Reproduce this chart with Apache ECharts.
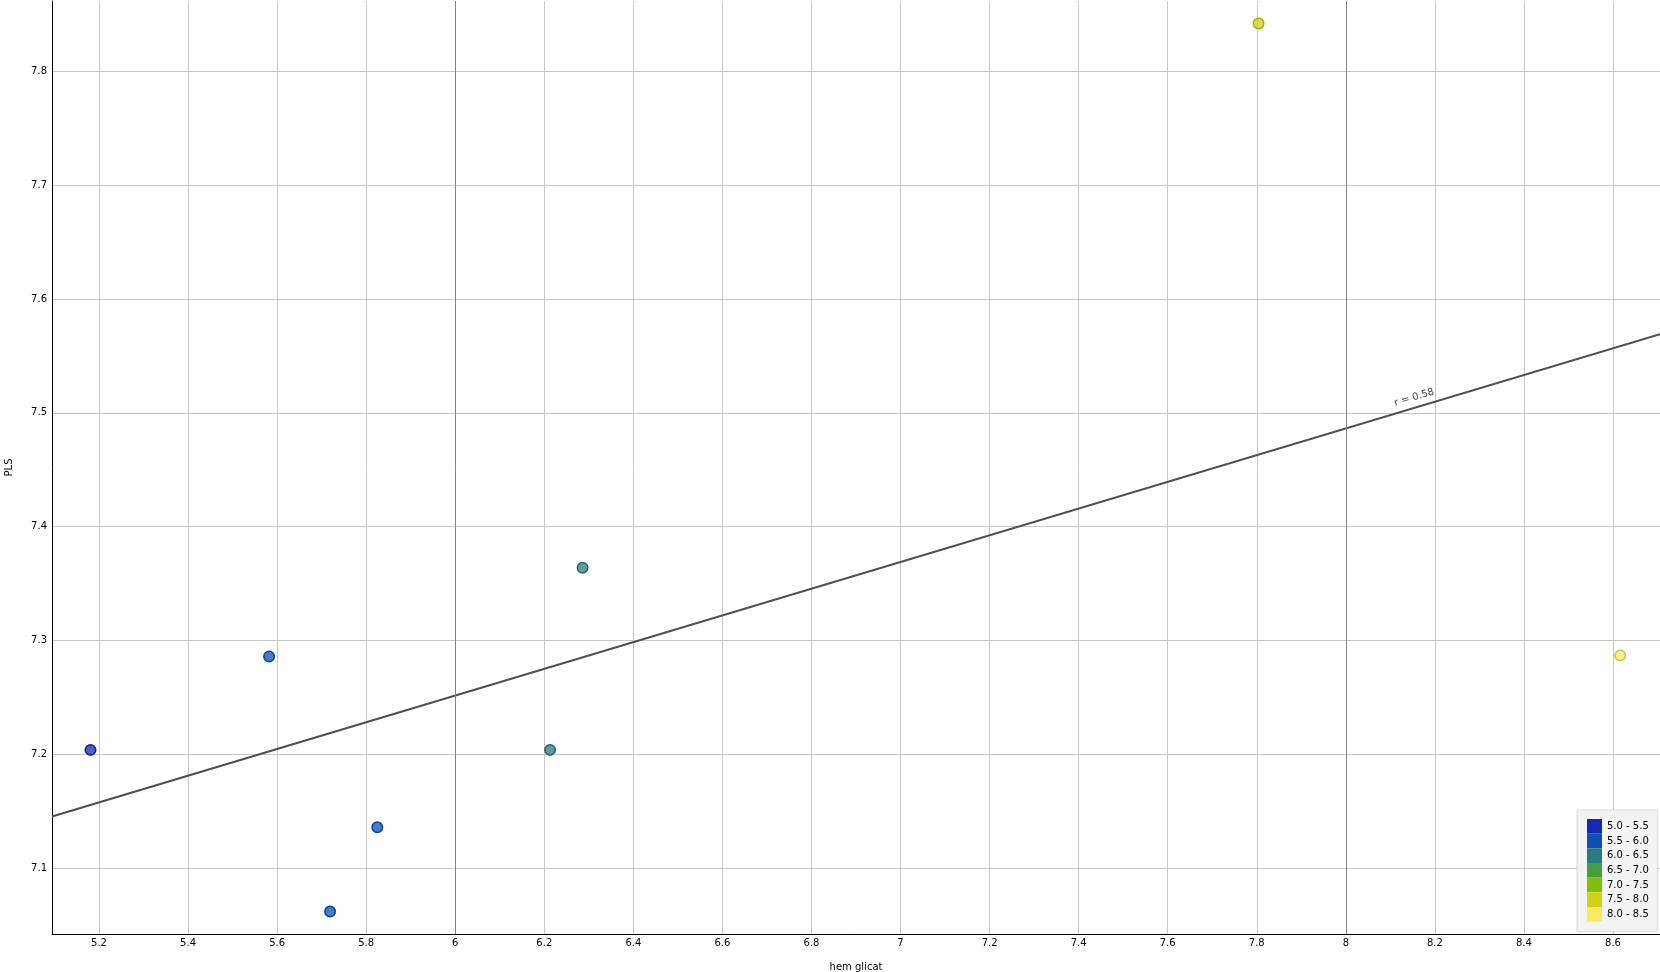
<!DOCTYPE html>
<html><head><meta charset="utf-8">
<script src="https://cdn.jsdelivr.net/npm/echarts@6/dist/echarts.min.js"></script>
<style>html,body{margin:0;padding:0;background:#fff}#c{width:1660px;height:972px}</style>
</head><body><div id="c"></div>
<script>
// ---- data ----
const hemGlicat = [5.181, 5.582, 5.719, 5.825, 6.213, 6.286, 7.804, 8.616];
const pls       = [7.204, 7.286, 7.062, 7.136, 7.204, 7.364, 7.842, 7.287];
const binLabels = ['5.0 - 5.5','5.5 - 6.0','6.0 - 6.5','6.5 - 7.0','7.0 - 7.5','7.5 - 8.0','8.0 - 8.5'];
const binStarts = [5.0, 5.5, 6.0, 6.5, 7.0, 7.5, 8.0];
const binColors = ['#1428b0','#0c50b4','#2a7a80','#40a040','#86bc10','#d2d214','#f8ea60'];
const trendLine = [[5.0945, 7.1455], [8.7055, 7.569]];
const trendLabel = 'r = 0.58';
const trendLabelAt = 8.16;
const xRange = [5.0945, 8.7055];
const yRange = [7.0423, 7.8617];
const majorX = [6, 8];
const xName = 'hem glicat';
const yName = 'PLS';

function rgb(hex){const n=parseInt(hex.slice(1),16);return [(n>>16)&255,(n>>8)&255,n&255];}
function fill(hex){const c=rgb(hex);return 'rgba('+c[0]+','+c[1]+','+c[2]+',0.75)';}
function dark(hex){const c=rgb(hex).map(v=>Math.round(v*0.82));return 'rgb('+c.join(',')+')';}
function binOf(x){let b=0;for(let i=0;i<binStarts.length;i++){if(x>=binStarts[i])b=i;}return b;}

const FONT = 'DejaVu Sans';
const chart = echarts.init(document.getElementById('c'), null, {renderer:'canvas'});

const series = [
  {
    type:'line', name:'_major', data:[], silent:true, z:1,
    markLine:{symbol:['none','none'], silent:true, animation:false,
      label:{show:false},
      lineStyle:{color:'#828282', width:1, type:'solid'},
      data: majorX.map(v=>({xAxis:v}))}
  },
  {
    type:'line', name:'_trend', data:trendLine, showSymbol:false, silent:true, z:3,
    lineStyle:{color:'#4e4e4e', width:2}
  },
  {
    type:'scatter', name:'_points', z:5, symbolSize:10.5,
    data: hemGlicat.map((x,i)=>{const b=binOf(x);return {value:[x,pls[i]], itemStyle:{color:fill(binColors[b]), borderColor:dark(binColors[b]), borderWidth:1.5, opacity:1}};})
  }
];
binLabels.forEach((l,i)=>series.push({type:'scatter', name:l, data:[], itemStyle:{color:binColors[i], opacity:1}}));

chart.setOption({
  animation:false,
  backgroundColor:'#ffffff',
  grid:{left:52, right:0, top:1, bottom:38, outerBoundsMode:'none', containLabel:false},
  legend:{
    orient:'vertical', left:1577, top:810, selectedMode:false,
    data: binLabels.map((l,i)=>({name:l, icon:'rect', itemStyle:{color:binColors[i], borderWidth:0, opacity:1}})),
    itemWidth:15, itemHeight:14.67, itemGap:0,
    padding:[9,9,10,10],
    backgroundColor:'#f3f3f3', borderColor:'#d8d8d8', borderWidth:1,
    textStyle:{fontFamily:FONT, fontSize:10, color:'#000', padding:[0,0,0,0]}
  },
  xAxis:{
    type:'value', min:xRange[0], max:xRange[1], splitNumber:18,
    name:xName, nameLocation:'middle', nameGap:28,
    nameTextStyle:{fontFamily:FONT, fontSize:10, color:'#000'},
    axisLine:{show:true, onZero:false, lineStyle:{color:'#000', width:1}},
    axisTick:{show:false},
    axisLabel:{fontFamily:FONT, fontSize:10, color:'#000', margin:4, showMinLabel:false, showMaxLabel:false},
    splitLine:{show:true, showMinLine:false, showMaxLine:false, lineStyle:{color:'#c8c8c8', width:1}}
  },
  yAxis:{
    type:'value', min:yRange[0], max:yRange[1], splitNumber:8,
    name:yName, nameLocation:'middle', nameGap:38, nameRotate:90,
    nameTextStyle:{fontFamily:FONT, fontSize:10, color:'#000'},
    axisLine:{show:true, onZero:false, lineStyle:{color:'#000', width:1}},
    axisTick:{show:false},
    axisLabel:{fontFamily:FONT, fontSize:10, color:'#000', margin:5, showMinLabel:false, showMaxLabel:false},
    splitLine:{show:true, showMinLine:false, showMaxLine:false, lineStyle:{color:'#c8c8c8', width:1}}
  },
  series: series
});

// label along the trend line
const p0 = chart.convertToPixel({gridIndex:0}, trendLine[0]);
const p1 = chart.convertToPixel({gridIndex:0}, trendLine[1]);
const ang = Math.atan2(p0[1]-p1[1], p1[0]-p0[0]);
const ty = trendLine[0][1] + (trendLine[1][1]-trendLine[0][1])*(trendLabelAt-trendLine[0][0])/(trendLine[1][0]-trendLine[0][0]);
const pc = chart.convertToPixel({gridIndex:0}, [trendLabelAt, ty]);
const off = 10;
chart.setOption({graphic:[{
  type:'text', x: pc[0] - Math.sin(ang)*off, y: pc[1] - Math.cos(ang)*off, rotation: ang, z:10,
  style:{text:trendLabel, fill:'#444', font:'10px "'+FONT+'"', align:'center', verticalAlign:'middle'}
}]});
</script></body></html>
